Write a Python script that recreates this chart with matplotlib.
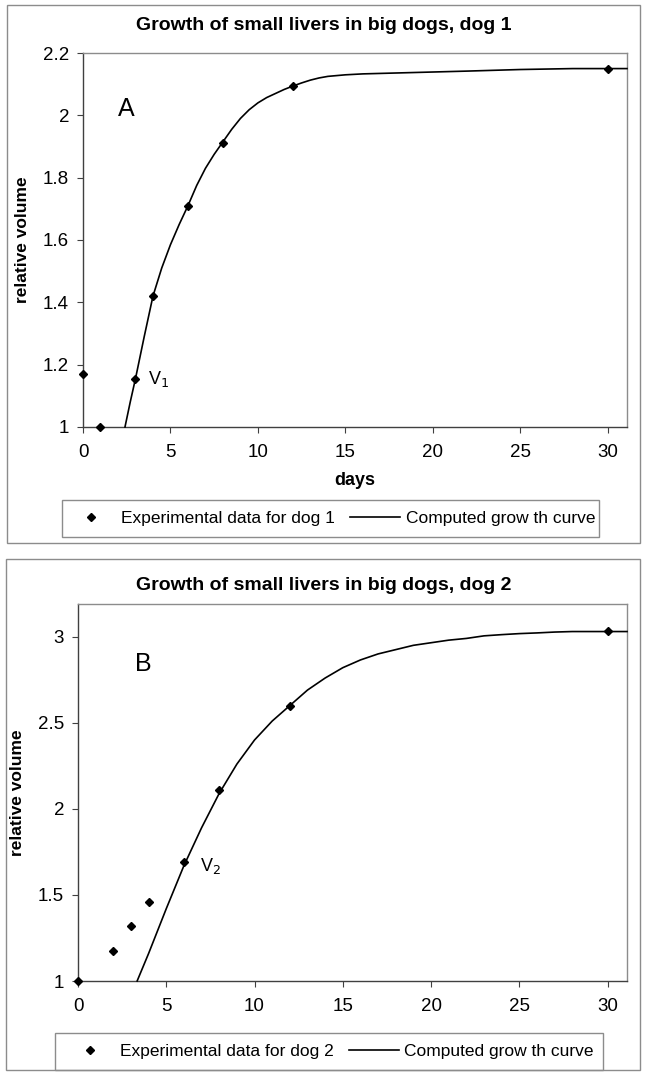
import matplotlib
matplotlib.use("Agg")
import matplotlib.pyplot as plt
from matplotlib.patches import Rectangle

plt.rcParams['font.family'] = ['Liberation Sans', 'DejaVu Sans']

# ---- data, dog 1 ----
days_exp_1 = [0, 1, 3, 4, 6, 8, 12, 30]
vol_exp_1 = [1.17, 1.0, 1.155, 1.42, 1.71, 1.91, 2.095, 2.15]
days_fit_1 = [2.4, 2.7, 3, 3.5, 4, 4.5, 5, 5.5, 6, 6.5, 7, 7.5, 8, 8.5, 9, 9.5, 10,
              10.5, 11, 11.5, 12, 12.5, 13, 13.5, 14, 15, 16, 18, 20, 22, 25, 28, 31.1]
vol_fit_1 = [1.0, 1.08, 1.155, 1.29, 1.42, 1.51, 1.585, 1.65, 1.71, 1.775, 1.83,
             1.875, 1.915, 1.955, 1.99, 2.018, 2.04, 2.057, 2.07, 2.083, 2.094, 2.104,
             2.113, 2.12, 2.125, 2.13, 2.133, 2.136, 2.139, 2.142, 2.147, 2.15, 2.15]

# ---- data, dog 2 ----
days_exp_2 = [0, 2, 3, 4, 6, 8, 12, 30]
vol_exp_2 = [1.0, 1.175, 1.32, 1.46, 1.69, 2.11, 2.6, 3.035]
days_fit_2 = [3.35, 4, 5, 6, 7, 8, 9, 10, 11, 12, 13, 14, 15, 16, 17, 18, 19, 20,
              21, 22, 23, 24, 25, 26, 27, 28, 31.1]
vol_fit_2 = [1.0, 1.16, 1.42, 1.67, 1.89, 2.09, 2.26, 2.4, 2.51, 2.6, 2.69, 2.76,
             2.82, 2.865, 2.9, 2.925, 2.95, 2.965, 2.98, 2.99, 3.005, 3.012, 3.018,
             3.022, 3.027, 3.03, 3.03]

titles = ["Growth of small livers in big dogs, dog 1",
          "Growth of small livers in big dogs, dog 2"]
x_ticks = [0, 5, 10, 15, 20, 25, 30]
y_ticks_1 = [1, 1.2, 1.4, 1.6, 1.8, 2, 2.2]
y_tick_labels_1 = ["1", "1.2", "1.4", "1.6", "1.8", "2", "2.2"]
y_ticks_2 = [1, 1.5, 2, 2.5, 3]
y_tick_labels_2 = ["1", "1.5", "2", "2.5", "3"]

W, H = 648, 1077
fig = plt.figure(figsize=(W / 100, H / 100), dpi=100)


def fx(px):
    return px / W


def fy(py):
    return 1 - py / H


def frame(x0, y0, x1, y1, z=0):
    fig.patches.append(Rectangle((fx(x0), fy(y1)), fx(x1) - fx(x0), fy(y0) - fy(y1),
                                 transform=fig.transFigure, fill=False,
                                 edgecolor="#8c8c8c", linewidth=1.0, zorder=z))


frame(7, 5, 640, 543)
frame(6, 559, 640, 1070)


def panel(rect, dx, dy, fxd, fyd, ylim, yt, ytl, title, title_y, letter, letter_xy,
          vlabel, v_xy, leg_rect, dog, show_xlabel):
    l, t, r, b = rect
    ax = fig.add_axes([fx(l), fy(b), fx(r) - fx(l), fy(t) - fy(b)])
    ax.plot(fxd, fyd, color="black", lw=1.2, clip_on=False, zorder=3,
            label="Computed grow th curve")
    ax.plot(dx, dy, linestyle="none", marker="D", markersize=4.5, color="black",
            clip_on=False, zorder=4, label="Experimental data for dog %d" % dog)
    ax.set_xlim(0, 31.1)
    ax.set_ylim(*ylim)
    ax.set_xticks(x_ticks)
    ax.set_xticklabels([str(v) for v in x_ticks])
    ax.set_yticks(yt)
    ax.set_yticklabels(ytl)
    ax.tick_params(axis="both", labelsize=13.5, length=4, width=0.8,
                   color="#404040", direction="out", pad=6)
    ax.tick_params(axis="x", pad=8)
    for s in ["top", "right"]:
        ax.spines[s].set_color("#8c8c8c")
        ax.spines[s].set_linewidth(1.0)
    for s in ["left", "bottom"]:
        ax.spines[s].set_color("#404040")
        ax.spines[s].set_linewidth(1.0)
    ax.set_ylabel("relative volume", fontsize=12.5, fontweight="bold", labelpad=9)
    if show_xlabel:
        ax.set_xlabel("days", fontsize=13, fontweight="bold", labelpad=8)
    fig.text(0.5 * (fx(7) + fx(640)), fy(title_y), title, ha="center", va="center",
             fontsize=14, fontweight="bold")
    ax.text(letter_xy[0], letter_xy[1], letter, fontsize=18, ha="center", va="center")
    ax.text(v_xy[0], v_xy[1], vlabel, fontsize=13, ha="left", va="center")
    lx0, ly0, lx1, ly1 = leg_rect
    frame(lx0, ly0, lx1, ly1, z=1)
    handles, labels = ax.get_legend_handles_labels()
    fig.legend(handles[::-1], labels[::-1], ncol=2,
               bbox_to_anchor=(0.5 * (fx(lx0) + fx(lx1)), 0.5 * (fy(ly0) + fy(ly1))),
               bbox_transform=fig.transFigure, loc="center",
               fontsize=12.5, frameon=False, handlelength=2.9, handletextpad=0.3,
               columnspacing=0.85, borderpad=0.0, borderaxespad=0)
    return ax


panel((83, 53, 627, 427), days_exp_1, vol_exp_1, days_fit_1, vol_fit_1,
      (1, 2.2), y_ticks_1, y_tick_labels_1, titles[0], 26, "A", (2.5, 2.02),
      "V$_1$", (3.7, 1.155), (62, 500, 599, 537), 1, True)
panel((78, 604, 627, 981), days_exp_2, vol_exp_2, days_fit_2, vol_fit_2,
      (1, 3.19), y_ticks_2, y_tick_labels_2, titles[1], 585, "B", (3.7, 2.84),
      "V$_2$", (6.9, 1.67), (55, 1033, 603, 1070), 2, False)

fig.savefig("out.png", dpi=100)
